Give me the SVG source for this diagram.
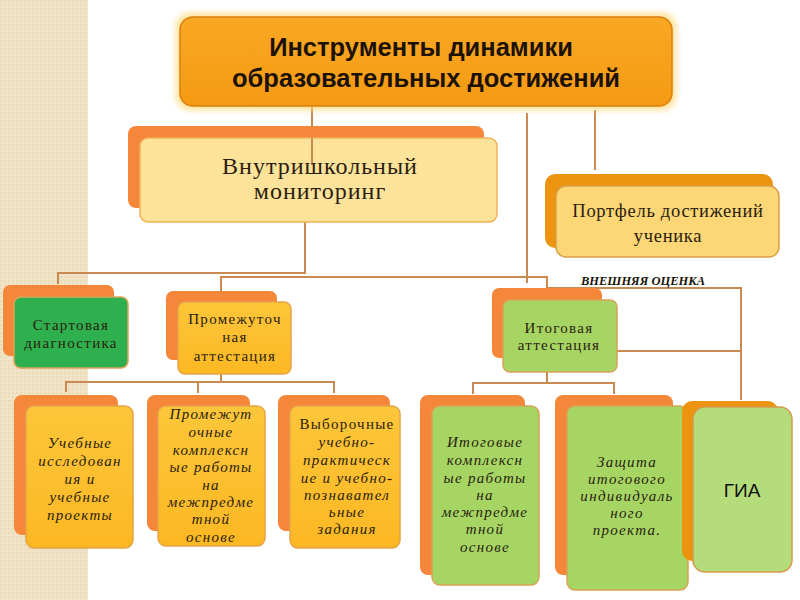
<svg xmlns="http://www.w3.org/2000/svg" width="800" height="600" viewBox="0 0 800 600">
<defs>
<pattern id="dots" width="4" height="4" patternUnits="userSpaceOnUse">
<rect width="4" height="4" fill="#f1e3c6"/>
<circle cx="1" cy="1" r="0.8" fill="#e2cfa6"/>
</pattern>
<linearGradient id="gTitle" x1="0" y1="0" x2="0" y2="1">
<stop offset="0" stop-color="#f9a825"/><stop offset="1" stop-color="#f59a12"/>
</linearGradient>
<linearGradient id="gYel" x1="0" y1="0" x2="0" y2="1">
<stop offset="0" stop-color="#fdc63a"/><stop offset="1" stop-color="#fcb823"/>
</linearGradient>
<filter id="glow" x="-10%" y="-30%" width="120%" height="160%">
<feGaussianBlur stdDeviation="3"/>
</filter>
<style>
.back{fill:#f5873a}
.backD{fill:#ec9410}
.yel{fill:url(#gYel);stroke:#e6a448;stroke-width:1.5}
.grn{fill:#a6d564;stroke:#d9a456;stroke-width:1.5}
.dgrn{fill:#2eb04e;stroke:#d9a456;stroke-width:1.5}
.lt{fill:#fde29a;stroke:#eeb257;stroke-width:1.5}
.port{fill:#fdd675;stroke:#d8a048;stroke-width:1.5}
.gia{fill:#b5dc7b;stroke:#d29a4a;stroke-width:1.5}
.ser{font-family:"Liberation Serif","DejaVu Serif",serif;fill:#2a1d10;text-anchor:middle}
.it{font-style:italic;letter-spacing:1.3px}
.s14{font-size:15px}
.s13{font-size:15px;letter-spacing:1.3px}
.conn line,.conn polyline{stroke:#c98a52;stroke-width:2;fill:none}
</style>
</defs>
<rect width="800" height="600" fill="#ffffff"/>
<rect x="0" y="0" width="88" height="600" fill="url(#dots)"/>

<g class="conn" id="connectors">
<line x1="312" y1="106" x2="312" y2="165"/>
<line x1="527" y1="113" x2="527" y2="283"/>
<line x1="595" y1="110" x2="595" y2="170"/>
<polyline points="58,284 58,273 305,273 305,222"/>
<polyline points="221,292 221,277 547,277 547,290"/>
<polyline points="547,288 741,288 741,400"/>
<line x1="603" y1="351" x2="741" y2="351"/>
<polyline points="66,392 66,382 334,382 334,393"/>
<line x1="198" y1="382" x2="198" y2="393"/>
<line x1="221" y1="374" x2="221" y2="382"/>
<polyline points="473,394 473,383 614,383 614,394"/>
<line x1="547" y1="372" x2="547" y2="383"/>
</g>

<g id="title">
<rect x="176" y="13" width="500" height="97" rx="14" fill="#ffd97a" opacity="0.8" filter="url(#glow)"/>
<rect x="180" y="17" width="492" height="89" rx="13" fill="url(#gTitle)" stroke="#d9800f" stroke-width="1.5"/>
<text x="421" y="56" font-family="Liberation Sans, Arial, sans-serif" font-weight="bold" font-size="25.5" fill="#1c1208" text-anchor="middle">Инструменты динамики</text>
<text x="426" y="87" font-family="Liberation Sans, Arial, sans-serif" font-weight="bold" font-size="25.5" fill="#1c1208" text-anchor="middle">образовательных достижений</text>
</g>

<g id="monitoring">
<rect x="128" y="126" width="356" height="82" rx="8" class="back"/>
<rect x="140" y="138" width="357" height="84" rx="8" class="lt"/>
<line x1="312" y1="138" x2="312" y2="165" stroke="#c98a52" stroke-width="2"/>
<text x="320" y="174" class="ser" font-size="24" letter-spacing="1">Внутришкольный</text>
<text x="320" y="199" class="ser" font-size="24" letter-spacing="1">мониторинг</text>
</g>

<g id="portfolio">
<rect x="545" y="174" width="228" height="74" rx="10" class="backD"/>
<rect x="556" y="186" width="223" height="71" rx="10" class="port"/>
<text x="668" y="217" class="ser" font-size="18.5" letter-spacing="0.7">Портфель достижений</text>
<text x="668" y="242" class="ser" font-size="18.5" letter-spacing="0.7">ученика</text>
</g>

<g id="external-label">
<text x="643" y="285" font-family="Liberation Serif, serif" font-style="italic" font-weight="bold" font-size="12.5" fill="#1a1208" text-anchor="middle">ВНЕШНЯЯ ОЦЕНКА</text>
</g>

<g id="start">
<rect x="3" y="285" width="111" height="71" rx="7" class="back"/>
<rect x="14" y="297" width="114" height="71" rx="7" class="dgrn"/>
<text x="71" y="330" class="ser s13" fill="#1b2f14">Стартовая</text>
<text x="71" y="348" class="ser s13">диагностика</text>
</g>

<g id="intermediate">
<rect x="166" y="291" width="111" height="69" rx="7" class="back"/>
<rect x="178" y="302" width="113" height="72" rx="7" class="yel"/>
<text x="235" y="324" class="ser s13">Промежуточ</text>
<text x="235" y="342" class="ser s13">ная</text>
<text x="235" y="361" class="ser s13">аттестация</text>
</g>

<g id="final">
<rect x="492" y="288" width="110" height="70" rx="7" class="back"/>
<rect x="503" y="300" width="114" height="72" rx="7" class="grn"/>
<text x="559" y="333" class="ser s13">Итоговая</text>
<text x="559" y="350" class="ser s13">аттестация</text>
</g>

<g id="projects">
<rect x="14" y="395" width="104" height="140" rx="8" class="back"/>
<rect x="26" y="406" width="107" height="142" rx="8" class="yel"/>
<text class="ser s14 it"><tspan x="80" y="448">Учебные</tspan><tspan x="80" y="466">исследован</tspan><tspan x="80" y="484">ия и</tspan><tspan x="80" y="502">учебные</tspan><tspan x="80" y="520">проекты</tspan></text>
</g>

<g id="interm-works">
<rect x="147" y="395" width="103" height="136" rx="8" class="back"/>
<rect x="158" y="406" width="107" height="140" rx="8" class="yel"/>
<text class="ser s14 it"><tspan x="211" y="419">Промежут</tspan><tspan x="211" y="437">очные</tspan><tspan x="211" y="455">комплексн</tspan><tspan x="211" y="472">ые работы</tspan><tspan x="211" y="490">на</tspan><tspan x="211" y="507">межпредме</tspan><tspan x="211" y="524">тной</tspan><tspan x="211" y="542">основе</tspan></text>
</g>

<g id="selective">
<rect x="278" y="395" width="112" height="136" rx="8" class="back"/>
<rect x="290" y="406" width="110" height="142" rx="8" class="yel"/>
<text class="ser s13"><tspan x="347" y="429">Выборочные</tspan></text>
<text class="ser s14 it"><tspan x="347" y="447">учебно-</tspan><tspan x="347" y="465">практическ</tspan><tspan x="347" y="483">ие и учебно-</tspan><tspan x="347" y="500">познавател</tspan><tspan x="347" y="517">ьные</tspan><tspan x="347" y="534">задания</tspan></text>
</g>

<g id="final-works">
<rect x="420" y="395" width="105" height="180" rx="8" class="back"/>
<rect x="432" y="406" width="107" height="179" rx="8" class="grn"/>
<text class="ser s14 it"><tspan x="485" y="447">Итоговые</tspan><tspan x="485" y="465">комплексн</tspan><tspan x="485" y="483">ые работы</tspan><tspan x="485" y="500">на</tspan><tspan x="485" y="517">межпредме</tspan><tspan x="485" y="534">тной</tspan><tspan x="485" y="552">основе</tspan></text>
</g>

<g id="defense">
<rect x="555" y="395" width="118" height="180" rx="8" class="back"/>
<rect x="567" y="406" width="121" height="184" rx="8" class="grn"/>
<text class="ser s14 it"><tspan x="627" y="467">Защита</tspan><tspan x="627" y="484">итогового</tspan><tspan x="627" y="501">индивидуаль</tspan><tspan x="627" y="518">ного</tspan><tspan x="627" y="535">проекта.</tspan></text>
</g>

<g id="gia">
<rect x="682" y="401" width="96" height="160" rx="10" class="backD"/>
<rect x="693" y="407" width="99" height="165" rx="12" class="gia"/>
<text x="742" y="497" font-family="Liberation Sans, Arial, sans-serif" font-size="19" fill="#111" text-anchor="middle">ГИА</text>
</g>
</svg>
